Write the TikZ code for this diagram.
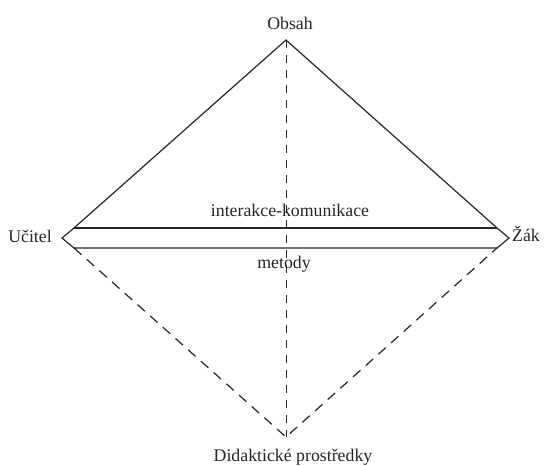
\documentclass[tikz,border=0pt]{standalone}
\usepackage{fontspec}
\setmainfont{Liberation Serif}

\begin{document}
\begin{tikzpicture}[x=1pt,y=-1pt,
		lbl/.style={inner sep=0pt,anchor=base,text=black!85,font=\fontsize{17.8}{20}\selectfont},
		side/.style={line width=1.2pt,draw=black!85},
		dsh/.style={line width=1.2pt,draw=black!85,dash pattern=on 10pt off 7pt}]
				\useasboundingbox (0,0) rectangle (547,466);
				% corners
				\coordinate (apex) at (286,40);
				\coordinate (bot) at (286,437);
				\coordinate (ltip) at (62,238);
				\coordinate (rtip) at (509,238);
				\coordinate (tl) at (74,228);
				\coordinate (tr) at (497,228);
				\coordinate (bl) at (74,248);
				\coordinate (br) at (497,248);
				% labels
				\node[lbl] (obsah) at (290,29) {Obsah};
				\node[lbl] (ucitel) at (30,242) {Učitel};
				\node[lbl] (zak) at (526,241) {Žák};
				\node[lbl] (inter) at (290,216) {interakce-komunikace};
				\node[lbl] (metody) at (284,268) {metody};
				\node[lbl] (prostr) at (293,461) {Didaktické prostředky};
				% triangle and band
				\draw[side] (tl) -- (apex) -- (tr);
				\draw[side,line width=1.7pt] (tl) -- (tr);
				\draw[side] (tl) -- (ltip) -- (bl) -- (br) -- (rtip) -- (tr);
				% dashed part
				\draw[dsh] (bl) -- (bot) -- (br);
				\draw[dsh,line width=0.9pt,dash pattern=on 8pt off 7pt] (apex) -- (bot);
			\end{tikzpicture}
\end{document}
